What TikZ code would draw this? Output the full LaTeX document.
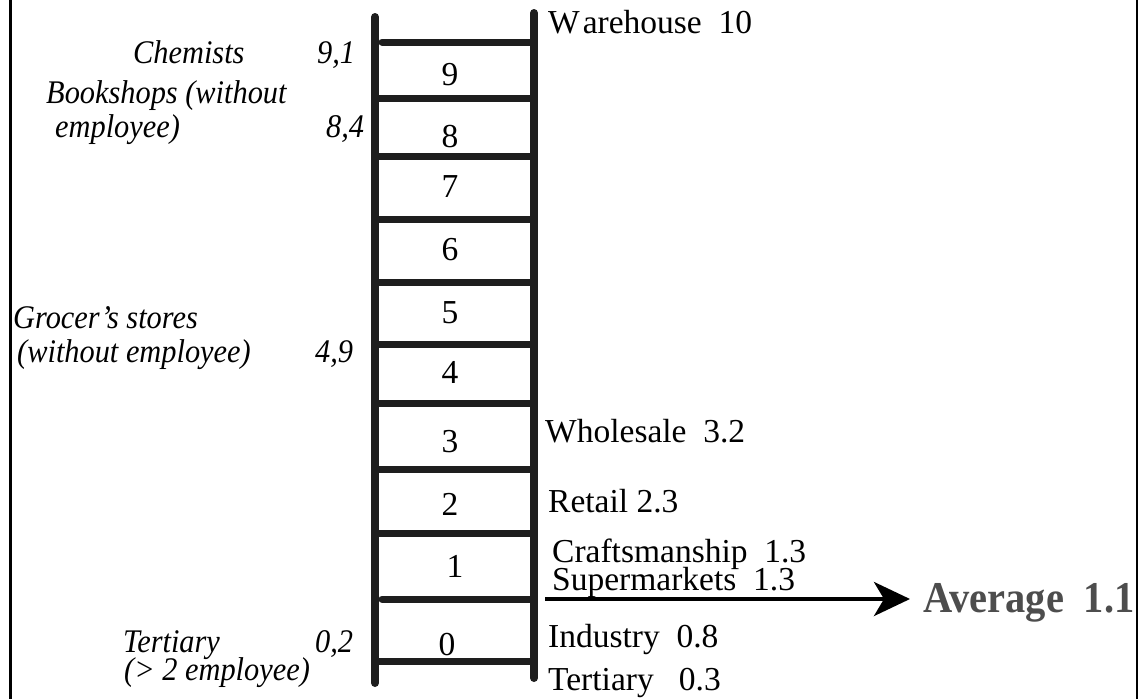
\documentclass[tikz,border=0pt]{standalone}
\usepackage{fontspec}
\setmainfont{Liberation Serif}
\newfontfamily\condfam{Liberation Serif}[FakeStretch=0.92]
\usetikzlibrary{arrows.meta}
\definecolor{ink}{RGB}{30,30,30}
\definecolor{avggray}{RGB}{77,77,77}
\begin{document}
\begin{tikzpicture}[x=1pt,y=-1pt,
  rail/.style={line width=8pt, line cap=round, draw=ink},
  rung/.style={line width=7pt, draw=ink},
  rungr/.style={line width=7pt, draw=ink, line cap=round},
  lab/.style={anchor=base west, inner sep=0pt, font=\fontsize{33.5}{36}\selectfont},
  ilab/.style={anchor=base west, inner sep=0pt, font=\condfam\fontsize{33}{36}\selectfont\itshape},
  num/.style={anchor=base, inner sep=0pt, font=\fontsize{33.5}{36}\selectfont},
  avg/.style={anchor=base west, inner sep=0pt, text=avggray, font=\condfam\fontsize{44}{48}\selectfont\bfseries},
  frame/.style={draw=black}]
\useasboundingbox (0,0) rectangle (1138,699);
% frame lines
\draw[frame, line width=3pt] (10.5,0) -- (10.5,699);
\draw[frame, line width=2.5pt] (1137,0) -- (1137,699);
% ladder rails
\coordinate (lt) at (375,17);
\coordinate (lb) at (375,683);
\coordinate (rt) at (534,13);
\coordinate (rb) at (534,678);
\draw[rail] (lt) -- (lb);
\draw[rail] (rt) -- (rb);
% rungs
\draw[rungr] (382,42) -- (534,42);
\foreach \y in {98,156,219,282,344,403,469,533,661}
  \draw[rung] (375,\y) -- (534,\y);
\draw[rungr] (382,599) -- (534,599);
% numbers
\node[num] (n9) at (450,85) {9};
\node[num] (n8) at (450,147) {8};
\node[num] (n7) at (450,197) {7};
\node[num] (n6) at (450,260) {6};
\node[num] (n5) at (450,323) {5};
\node[num] (n4) at (450,383) {4};
\node[num] (n3) at (450,452) {3};
\node[num] (n2) at (450,515) {2};
\node[num] (n1) at (455,577) {1};
\node[num] (n0) at (447,655) {0};
% right labels
\node[lab] (wh) at (548,33) {W\kern3pt arehouse\ \ 10};
\node[lab] (ws) at (545,442) {Wholesale\ \ 3.2};
\node[lab] (rt2) at (548,512) {Retail 2.3};
\node[lab] (cr) at (552,562) {Craftsmanship\ \ 1.3};
\node[lab] (sm) at (552,590) {Supermarkets\ \ 1.3};
\node[lab] (ind) at (548,647) {Industry\ \ 0.8};
\node[lab] (ter) at (548,690) {Tertiary\ \ \ 0.3};
% left labels
\node[ilab] (chem) at (133,63) {Chemists};
\node[ilab] (chemv) at (317,63) {9,1};
\node[ilab] (book1) at (46,103) {Bookshops (without};
\node[ilab] (book2) at (55,137) {employee)};
\node[ilab] (bookv) at (326,137) {8,4};
\node[ilab] (groc1) at (13,328) {Grocer’s stores};
\node[ilab] (groc2) at (17,362) {(without employee)};
\node[ilab] (grocv) at (315,362) {4,9};
\node[ilab] (tert1) at (123,652) {Tertiary};
\node[ilab] (tertv) at (315,652) {0,2};
\node[ilab] (tert2) at (124,680) {(> 2 employee)};
% average arrow
\coordinate (as) at (545,599);
\coordinate (ae) at (910,599);
\draw[line width=4pt, -{Stealth[length=36pt, width=34pt, inset=10pt]}] (as) -- (ae);
\node[avg] (average) at (923,612) {Average\hspace{0.45em}1.1};
\end{tikzpicture}
\end{document}
